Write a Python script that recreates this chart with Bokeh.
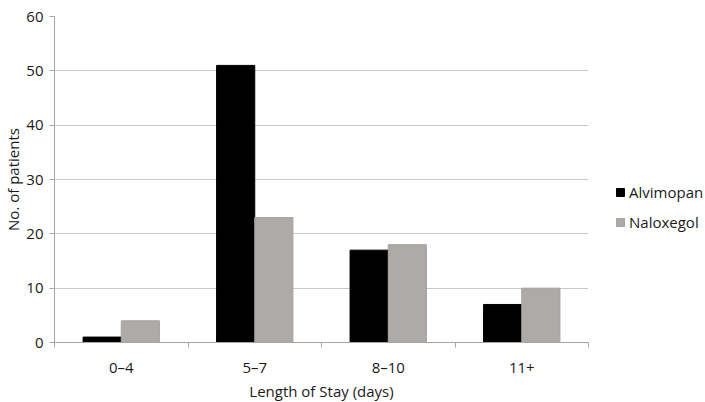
import numpy as np
from bokeh.plotting import figure
from bokeh.models import (ColumnDataSource, Range1d, FixedTicker, Legend, LegendItem)
from bokeh.embed import file_html
from bokeh.resources import INLINE

categories = ["0–4", "5–7", "8–10", "11+"]
alvimopan = [1, 51, 17, 7]
naloxegol = [4, 23, 18, 10]
y_ticks = [0, 10, 20, 30, 40, 50, 60]

FONT = "Open Sans"
TXT = "#1a1a1a"
AXC = "#A6A6A6"
GRID = "#C8C8C8"
FS = "15px"

centers = np.arange(len(categories)) + 0.5
bw = 0.286
src = ColumnDataSource(dict(
    xa=centers - bw / 2, xn=centers + bw / 2,
    alv=alvimopan, nal=naloxegol))

p = figure(frame_width=534, frame_height=326, output_backend="svg",
           toolbar_location=None,
           x_range=Range1d(0, len(categories)), y_range=Range1d(0, 60),
           min_border_left=0, min_border_right=98, min_border_top=16,
           min_border_bottom=0)
p.outline_line_color = None
p.background_fill_color = "white"
p.border_fill_color = "white"

ra = p.vbar(x="xa", top="alv", width=bw, source=src, fill_color="black",
            line_color="black")
rn = p.vbar(x="xn", top="nal", width=bw, source=src, fill_color="#ADAAA8",
            line_color="#A6A3A1")

# axes
p.xaxis.ticker = FixedTicker(ticks=list(centers),
                             minor_ticks=list(range(len(categories) + 1)))
p.xaxis.major_label_overrides = {float(c): lab for c, lab in zip(centers, categories)}
p.xaxis.major_tick_out = 0
p.xaxis.major_tick_in = 0
p.xaxis.minor_tick_out = 5
p.xaxis.minor_tick_in = 0
p.xaxis.minor_tick_line_color = AXC
p.xaxis.axis_line_color = AXC
p.xaxis.axis_label = "Length of Stay (days)"
p.xaxis.major_label_standoff = 9
p.xaxis.axis_label_standoff = 1

p.yaxis.ticker = FixedTicker(ticks=y_ticks)
p.yaxis.major_tick_out = 5
p.yaxis.major_tick_in = 0
p.yaxis.minor_tick_line_color = None
p.yaxis.major_tick_line_color = AXC
p.yaxis.axis_line_color = AXC
p.yaxis.axis_label = "No. of patients"
p.yaxis.major_label_standoff = 6
p.yaxis.axis_label_standoff = 0

for ax in (p.xaxis, p.yaxis):
    ax.major_label_text_font = FONT
    ax.major_label_text_font_size = FS
    ax.major_label_text_color = TXT
    ax.axis_label_text_font = FONT
    ax.axis_label_text_font_size = FS
    ax.axis_label_text_font_style = "normal"
    ax.axis_label_text_color = TXT

p.xgrid.grid_line_color = None
p.ygrid.grid_line_color = GRID
p.ygrid.ticker = FixedTicker(ticks=y_ticks)

legend = Legend(items=[LegendItem(label="Alvimopan", renderers=[ra]),
                       LegendItem(label="Naloxegol", renderers=[rn])],
                location=(27, 110))
legend.border_line_color = None
legend.background_fill_alpha = 0
legend.label_text_font = FONT
legend.label_text_font_size = "15px"
legend.label_text_color = TXT
legend.glyph_width = 10
legend.glyph_height = 10
legend.label_height = 20
legend.spacing = 10
legend.padding = 0
legend.margin = 0
legend.label_standoff = 4
p.add_layout(legend, "right")

open("out.html", "w").write(file_html(p, INLINE))
